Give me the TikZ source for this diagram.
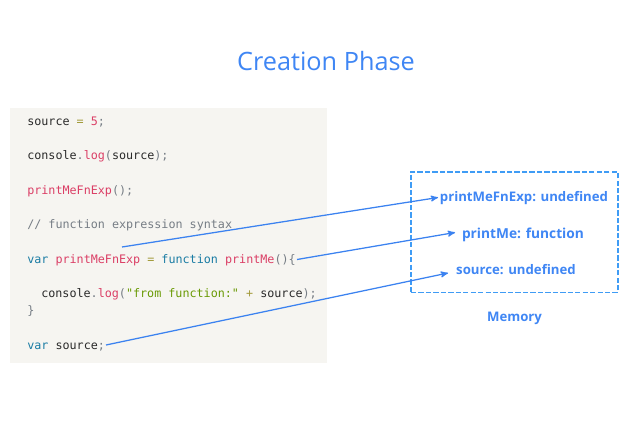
\documentclass[tikz,border=0pt]{standalone}
\usepackage{fontspec}
\setmainfont{Open Sans}
\newfontfamily\codefont{DejaVu Sans Mono}
\usepackage{tikz}
\usetikzlibrary{arrows}
\definecolor{titleBlue}{HTML}{3F86F4}
\definecolor{lineBlue}{HTML}{3B82F0}
\definecolor{dashBlue}{HTML}{3F9CF5}
\definecolor{codeBg}{HTML}{F6F5F1}
\definecolor{codeInk}{HTML}{2A2A2A}
\definecolor{codeRed}{HTML}{DB3F66}
\definecolor{codeTeal}{HTML}{1A7CA4}
\definecolor{codeGreen}{HTML}{6A9A05}
\definecolor{codeGrey}{HTML}{767D85}
\definecolor{codeOlive}{HTML}{A39A3A}
\newcommand{\kw}[1]{\textcolor{codeTeal}{#1}}
\newcommand{\fn}[1]{\textcolor{codeRed}{#1}}
\newcommand{\str}[1]{\textcolor{codeGreen}{#1}}
\newcommand{\pun}[1]{\textcolor{codeGrey}{#1}}
\newcommand{\op}[1]{\textcolor{codeOlive}{#1}}
\tikzset{
     codeNode/.style =
        { anchor=base west
        , inner sep=0pt
        , text=codeInk
        , font=\codefont\fontsize{8.8pt}{10pt}\selectfont
        },
     memNode/.style =
        { anchor=base
        , inner sep=0pt
        , text=titleBlue
        , font=\bfseries\fontsize{9.9pt}{12pt}\selectfont
        },
     linkLine/.style =
        { ->
        , >=stealth'
        , lineBlue
        , line width=0.95pt
        }
}
\begin{document}
\begin{tikzpicture}
            [ x=0.75pt
            , y=-0.75pt
            ]
            \useasboundingbox (0,0) rectangle (630,446);
            \fill[codeBg] (10,108) rectangle (327,363);
            \node[anchor=base, inner sep=0pt, text=titleBlue, font=\fontsize{18.95pt}{23pt}\selectfont] (title) at (326,70) {Creation Phase};

            \node[codeNode] (line1) at (27,125) {source \op{=} \fn{5}\pun{;}};
            \node[codeNode] (line2) at (27,159.5) {console\pun{.}\fn{log}\pun{(}source\pun{);}};
            \node[codeNode] (line3) at (27,194) {\fn{printMeFnExp}\pun{();}};
            \node[codeNode] (line4) at (27,228.5) {\pun{// function expression syntax}};
            \node[codeNode] (line5) at (27,263) {\kw{var} \fn{printMeFnExp} \op{=} \kw{function} \fn{printMe}\pun{()\{}};
            \node[codeNode] (line6) at (41,297.5) {console\pun{.}\fn{log}\pun{(}\str{"from function:"} \op{+} source\pun{);}};
            \node[codeNode] (line7) at (27,314.5) {\pun{\}}};
            \node[codeNode] (line8) at (27,349.5) {\kw{var} source\pun{;}};

            \node[draw=dashBlue, line width=1.3pt, dash pattern=on 4pt off 1.6pt, minimum width=155.2pt, minimum height=90.5pt, inner sep=0pt, anchor=north west] (memBox) at (410,171) {};
            \node[memNode] (mem1) at (524,201) {printMeFnExp: undefined};
            \node[memNode, font=\bfseries\fontsize{10.3pt}{12pt}\selectfont] (mem2) at (523,238) {printMe: function};
            \node[memNode] (mem3) at (516,274.5) {source: undefined};
            \node[memNode] (memLabel) at (514.5,321) {Memory};

            \coordinate (from1) at (122,247);
            \coordinate (from2) at (297,259.5);
            \coordinate (from3) at (106,345);
            \coordinate (to1) at (438,197.5);
            \coordinate (to2) at (455,232.5);
            \coordinate (to3) at (448,273);

            \path[linkLine]
            (from1) edge (to1)
            (from2) edge (to2)
            (from3) edge (to3)
            ;
        \end{tikzpicture}
\end{document}
